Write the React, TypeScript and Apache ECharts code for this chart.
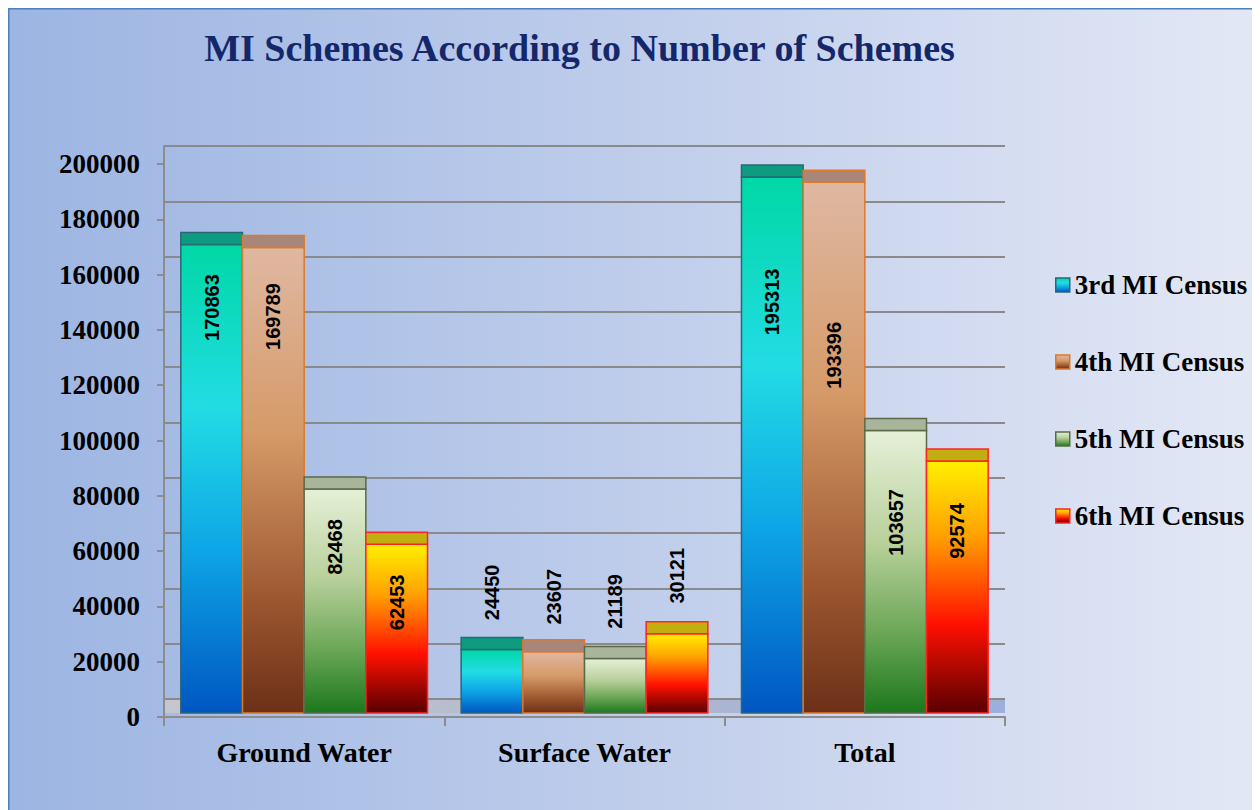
import React, { useEffect, useRef } from "react";
import * as echarts from "echarts";

// ---------- data ----------
const CATEGORIES = ["Ground Water", "Surface Water", "Total"];
const SERIES_NAMES = ["3rd MI Census", "4th MI Census", "5th MI Census", "6th MI Census"];
const CENSUS_3 = [170863, 24450, 195313];
const CENSUS_4 = [169789, 23607, 193396];
const CENSUS_5 = [82468, 21189, 103657];
const CENSUS_6 = [62453, 30121, 92574];
const Y_MIN = 0;
const Y_MAX = 200000;
const Y_STEP = 20000;

// ---------- style (label placement relative to bar top, px) ----------
const LABEL_DROP_3 = [63, -57, 125];
const LABEL_DROP_4 = [69, -55, 173];
const LABEL_DROP_5 = [58, -57, 92];
const LABEL_DROP_6 = [58, -58, 70];

const SERIES_VALUES = [CENSUS_3, CENSUS_4, CENSUS_5, CENSUS_6];
const LABEL_DROPS = [LABEL_DROP_3, LABEL_DROP_4, LABEL_DROP_5, LABEL_DROP_6];

const STYLES = [
  {
    stops: [
      [0, "#00d8a6"],
      [0.35, "#22dce4"],
      [0.65, "#0ea6e6"],
      [1, "#0056c2"],
    ],
    cap: "#0e9c80",
    border: "#2a6676",
  },
  {
    stops: [
      [0, "#dfb8a2"],
      [0.4, "#d59a68"],
      [0.75, "#9e5830"],
      [1, "#6c3018"],
    ],
    cap: "#a8877a",
    border: "#e07826",
  },
  {
    stops: [
      [0, "#e6f0d8"],
      [0.4, "#b8d09a"],
      [0.72, "#6aa656"],
      [1, "#1c781c"],
    ],
    cap: "#a9b59b",
    border: "#5a6a48",
  },
  {
    stops: [
      [0, "#fff000"],
      [0.3, "#ffa000"],
      [0.65, "#ff1000"],
      [1, "#580000"],
    ],
    cap: "#c2ae10",
    border: "#ff2424",
  },
];

const grad = (stops: any[]) =>
  new echarts.graphic.LinearGradient(
    0,
    0,
    0,
    1,
    stops.map(([offset, color]) => ({ offset, color }))
  );

// layout (px, relative to chart div)
const W = 1252;
const H = 802;
const G_LEFT = 156;
const G_RIGHT = 255;
const G_TOP = 156;
const G_BOTTOM = 93;
const DEPTH = 18; // back-wall offset
const CAP = 12;
const FLOOR_INSET = 4;
const BAR_FRAC = 0.22;

const SERIF = '"Liberation Serif", "Times New Roman", serif';
const SANS = '"Liberation Sans", Arial, sans-serif';

export default function App() {
  const ref = useRef<HTMLDivElement>(null);

  useEffect(() => {
    if (!ref.current) return;
    const chart = echarts.init(ref.current, undefined, { renderer: "svg" });

    const makeRender = (si: number) => (params: any, api: any) => {
      const cat = api.value(0);
      const val = api.value(1);
      const band = api.size([1, 0])[0];
      const w = band * BAR_FRAC;
      const [cx, top] = api.coord([cat, val]);
      const y0 = api.coord([cat, 0])[1];
      const x = cx - 2 * w + si * w;
      const bottom = y0 - FLOOR_INSET;
      const st = STYLES[si];
      const drop = LABEL_DROPS[si][params.dataIndex];
      return {
        type: "group",
        children: [
          {
            type: "rect",
            shape: { x, y: top, width: w, height: bottom - top },
            style: { fill: grad(st.stops), stroke: st.border, lineWidth: 1.5 },
          },
          {
            type: "rect",
            shape: { x, y: top - CAP, width: w, height: CAP },
            style: { fill: st.cap, stroke: st.border, lineWidth: 1.5 },
          },
          {
            type: "text",
            x: x + w / 2,
            y: top + drop,
            rotation: Math.PI / 2,
            style: {
              text: String(val),
              fill: "#000",
              fontSize: 20,
              fontWeight: "bold",
              fontFamily: SANS,
              align: "center",
              verticalAlign: "middle",
            },
          },
        ],
      };
    };

    const plotW = W - G_LEFT - G_RIGHT;

    chart.setOption({
      animation: false,
      backgroundColor: new echarts.graphic.LinearGradient(0, 0, 1, 0, [
        { offset: 0, color: "#9cb5e2" },
        { offset: 0.5, color: "#bfcdeb" },
        { offset: 1, color: "#e3e8f5" },
      ]),
      title: {
        text: "MI Schemes According to Number of Schemes",
        left: G_LEFT + plotW / 2 - 10,
        textAlign: "center",
        top: 16,
        textStyle: {
          fontFamily: SERIF,
          fontWeight: "bold",
          fontSize: 38,
          color: "#14276b",
        },
      },
      legend: {
        orient: "vertical",
        left: 1042,
        top: 257,
        itemWidth: 14,
        itemHeight: 14,
        itemGap: 47,
        icon: "rect",
        textStyle: {
          fontFamily: SERIF,
          fontWeight: "bold",
          fontSize: 27,
          lineHeight: 30,
          color: "#000",
        },
        data: SERIES_NAMES.map((n, i) => ({
          name: n,
          itemStyle: {
            color: grad(STYLES[i].stops),
            borderColor: STYLES[i].border,
            borderWidth: 1.5,
          },
        })),
      },
      graphic: [
        {
          type: "rect",
          silent: true,
          z: -10,
          shape: {
            x: G_LEFT,
            y: H - G_BOTTOM - DEPTH,
            width: plotW,
            height: DEPTH - FLOOR_INSET,
          },
          style: {
            fill: new echarts.graphic.LinearGradient(0, 0, 1, 0, [
              { offset: 0, color: "#c6c7cd" },
              { offset: 0.5, color: "#b2b9cf" },
              { offset: 1, color: "#9eaedb" },
            ]),
          },
        },
        {
          type: "line",
          silent: true,
          shape: { x1: 0.5, y1: 0, x2: 0.5, y2: H },
          style: { stroke: "#4f7fbd", lineWidth: 2 },
        },
        {
          type: "line",
          silent: true,
          shape: { x1: 0, y1: 0.5, x2: W, y2: 0.5 },
          style: { stroke: "#4f7fbd", lineWidth: 2 },
        },
      ],
      grid: [
        { left: G_LEFT, right: G_RIGHT, top: G_TOP, bottom: G_BOTTOM },
        {
          left: G_LEFT,
          right: G_RIGHT,
          top: G_TOP - DEPTH,
          bottom: G_BOTTOM + DEPTH,
        },
      ],
      xAxis: [
        {
          type: "category",
          gridIndex: 0,
          data: CATEGORIES,
          boundaryGap: true,
          axisLine: { show: true, lineStyle: { color: "#8c8c8c", width: 2 } },
          axisTick: {
            show: true,
            length: 9,
            alignWithLabel: false,
            lineStyle: { color: "#8c8c8c", width: 2 },
          },
          axisLabel: {
            margin: 21,
            fontFamily: SERIF,
            fontWeight: "bold",
            fontSize: 28,
            color: "#000",
          },
          splitLine: { show: false },
        },
        {
          type: "category",
          gridIndex: 1,
          data: CATEGORIES,
          show: false,
        },
      ],
      yAxis: [
        {
          type: "value",
          gridIndex: 0,
          min: Y_MIN,
          max: Y_MAX,
          interval: Y_STEP,
          axisLine: { show: true, lineStyle: { color: "#8c8c8c", width: 2 } },
          axisTick: {
            show: true,
            length: 7,
            lineStyle: { color: "#8c8c8c", width: 2 },
          },
          axisLabel: {
            margin: 24,
            fontFamily: SERIF,
            fontWeight: "bold",
            fontSize: 27,
            color: "#000",
            formatter: (v: number) => String(v),
          },
          splitLine: { show: false },
        },
        {
          type: "value",
          gridIndex: 1,
          min: Y_MIN,
          max: Y_MAX,
          interval: Y_STEP,
          axisLine: { show: true, lineStyle: { color: "#8c8c8c", width: 2 } },
          axisTick: { show: false },
          axisLabel: { show: false },
          splitLine: { show: true, lineStyle: { color: "#8a8a8a", width: 2 } },
        },
      ],
      series: SERIES_NAMES.map((name, si) => ({
        name,
        type: "custom",
        xAxisIndex: 0,
        yAxisIndex: 0,
        renderItem: makeRender(si),
        encode: { x: 0, y: 1 },
        itemStyle: { color: STYLES[si].stops[1][1] },
        data: CATEGORIES.map((_, ci) => [ci, SERIES_VALUES[si][ci]]),
        clip: false,
        z: 5,
      })),
    });

    return () => chart.dispose();
  }, []);

  return <div ref={ref} style={{ width: W, height: H }} />;
}
